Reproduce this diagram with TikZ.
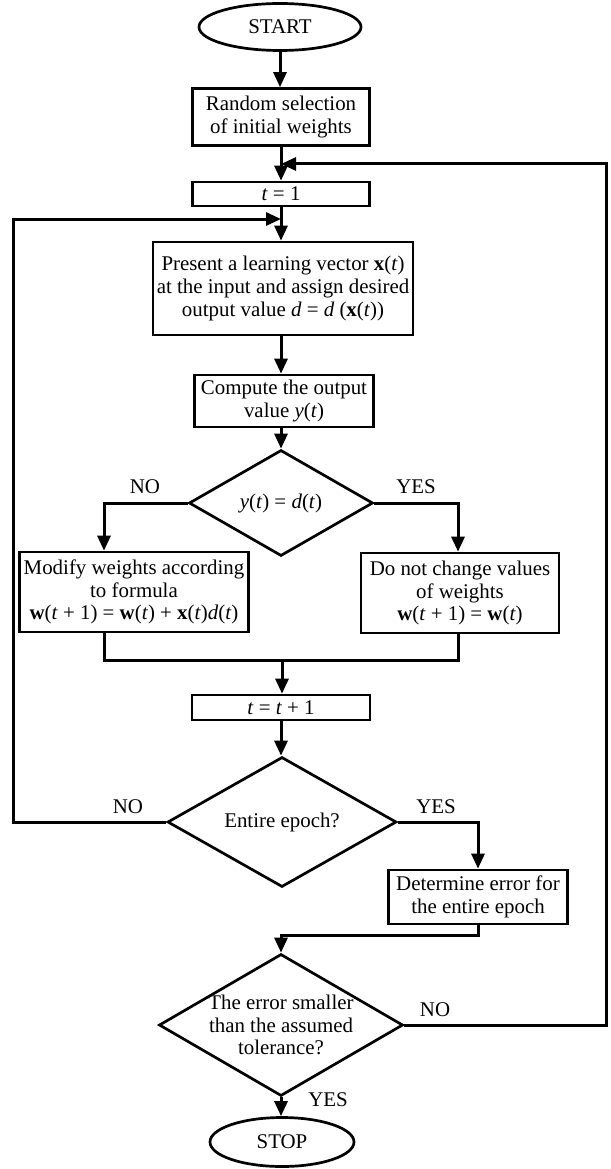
\documentclass[tikz,border=0pt]{standalone}
\usepackage{fontspec}
\setmainfont{Liberation Serif}
\usetikzlibrary{shapes.geometric,arrows.meta}
\begin{document}
\begin{tikzpicture}[x=1pt,y=-1pt,
  txt/.style={font=\fontsize{20.9}{22.8}\selectfont, align=center, inner sep=0pt},
  proc/.style={txt, draw, line width=2.7pt, rectangle},
  term/.style={txt, draw, line width=2.7pt, ellipse},
  cond/.style={draw, line width=2.7pt, diamond, inner sep=0pt},
  flow/.style={line width=3pt},
  arr/.style={flow, -{Triangle[length=15pt,width=13pt]}},
]
\useasboundingbox (0,0) rectangle (610,1169);
\newcommand{\vb}[1]{\textbf{#1}}
\newcommand{\vi}[1]{\textit{#1}}

% main column of steps
\node[term, minimum width=162pt, minimum height=47pt] (start) at (280,27) {START};
\node[proc, minimum width=177pt, minimum height=57pt] (rand) at (281,117)
  {Random selection\\of initial weights};
\node[proc, minimum width=177pt, minimum height=24pt] (t1) at (281,194) {\vi{t} = 1};
\node[proc, minimum width=260pt, minimum height=93pt] (present) at (283,288.5)
  {Present a learning vector \vb{x}(\vi{t})\\at the input and assign desired\\output value \vi{d} = \vi{d} (\vb{x}(\vi{t}))};
\node[proc, minimum width=179pt, minimum height=52pt] (compute) at (284,401)
  {Compute the output\\value \vi{y}(\vi{t})};

% first decision and its two branches
\node[cond, minimum width=184pt, minimum height=106pt] (d1) at (281,503) {};
\node[txt] (d1t) at (d1) {\vi{y}(\vi{t}) = \vi{d}(\vi{t})};
\node[proc, minimum width=229pt, minimum height=80pt] (modify) at (134,592)
  {Modify weights according\\to formula\\\vb{w}(\vi{t} + 1) = \vb{w}(\vi{t}) + \vb{x}(\vi{t})\vi{d}(\vi{t})};
\node[proc, minimum width=198pt, minimum height=80pt] (keep) at (460,593)
  {Do not change values\\of weights\\\vb{w}(\vi{t} + 1) = \vb{w}(\vi{t})};

\node[proc, minimum width=178pt, minimum height=25pt] (tinc) at (281,707.5) {\vi{t} = \vi{t} + 1};

% epoch check
\node[cond, minimum width=229pt, minimum height=130pt] (d2) at (282,822) {};
\node[txt] (d2t) at (d2) {Entire epoch?};
\node[proc, minimum width=179pt, minimum height=54pt] (det) at (478,897)
  {Determine error for\\the entire epoch};

% tolerance check
\node[cond, minimum width=244pt, minimum height=142pt] (d3) at (281,1025) {};
\node[txt] (d3t) at (d3) {The error smaller\\than the assumed\\tolerance?};
\node[term, minimum width=144pt, minimum height=49pt] (stop) at (282,1142) {STOP};

% branch labels
\node[txt] (no1) at (145,487) {NO};
\node[txt] (yes1) at (416,487) {YES};
\node[txt] (no2) at (128,807) {NO};
\node[txt] (yes2) at (436,807) {YES};
\node[txt] (no3) at (435,1010) {NO};
\node[txt] (yes3) at (328,1100) {YES};

% junction points
\coordinate (j1) at (281,164);
\coordinate (rc) at (606,164);
\coordinate (j2) at (281,219);
\coordinate (lc) at (13,219);
\coordinate (m) at (282,660);
\coordinate (m2) at (281,935);

% connectors
\draw[arr] (start) -- (start |- rand.north);
\draw[arr] (rand) -- (t1);
\draw[arr] (t1) -- (t1 |- present.north);
\draw[arr] (t1 |- present.south) -- (t1 |- compute.north);
\draw[arr] (t1 |- compute.south) -- (d1);
\draw[arr] (d1.west) -| ([xshift=-30pt]modify.north);
\draw[arr] (d1.east) -| ([xshift=-2pt]keep.north);
\draw[flow] ([xshift=-30pt]modify.south) |- (m) -| ([xshift=-2pt]keep.south);
\draw[arr] (m) -- (m |- tinc.north);
\draw[arr] (tinc) -- (tinc |- d2.north);
\draw[arr] (d2.east) -| (det.north);
\draw[arr] (d2.west) -| (lc) -- (j2);
\draw[arr] (det.south) |- (m2) -- (d3.north);
\draw[arr] (d3.east) -| (rc) -- (j1);
\draw[arr] (d3) -- (d3 |- stop.north);
\end{tikzpicture}
\end{document}
